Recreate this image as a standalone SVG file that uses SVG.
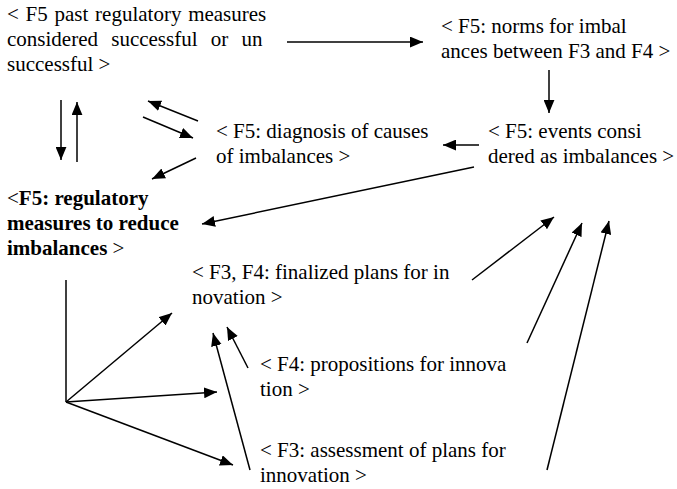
<svg xmlns="http://www.w3.org/2000/svg" width="677" height="489" viewBox="0 0 677 489">
  <style>
    text { font-family: 'Liberation Serif', 'DejaVu Serif', Tinos, 'Times New Roman', Times, serif; font-size: 21px; fill: #000; }
    .b { font-weight: bold; }
    .c { fill: none; stroke: #000; stroke-width: 1.5; }
    .a { marker-end: url(#head); }
  </style>
  <defs>
    <marker id="head" markerUnits="userSpaceOnUse" markerWidth="13" markerHeight="11" refX="12" refY="5" orient="auto" viewBox="0 0 12 10">
      <path d="M0,0 L12,5 L0,10 z" fill="#000"/>
    </marker>
  </defs>
  <rect width="677" height="489" fill="#fff"/>

  <g id="connectors">
    <line class="c a" x1="287" y1="42" x2="423" y2="42"/>
    <line class="c a" x1="549" y1="70" x2="549" y2="113"/>
    <line class="c a" x1="479" y1="145" x2="443" y2="145"/>
    <line class="c a" x1="198" y1="121" x2="148" y2="101"/>
    <line class="c a" x1="143" y1="117" x2="193" y2="138"/>
    <line class="c a" x1="196" y1="158" x2="152" y2="179"/>
    <line class="c a" x1="474" y1="167" x2="202" y2="224"/>
    <line class="c a" x1="61" y1="100" x2="61" y2="160"/>
    <line class="c a" x1="77" y1="162" x2="77" y2="102"/>
    <line class="c" x1="66" y1="280" x2="66" y2="402"/>
    <line class="c a" x1="66" y1="402" x2="172" y2="313"/>
    <line class="c a" x1="66" y1="402" x2="217" y2="392"/>
    <line class="c a" x1="66" y1="402" x2="233" y2="465"/>
    <line class="c a" x1="248" y1="368" x2="227" y2="327"/>
    <line class="c a" x1="250" y1="470" x2="213" y2="333"/>
    <line class="c a" x1="472" y1="280" x2="554" y2="217"/>
    <line class="c a" x1="527" y1="343" x2="582" y2="223"/>
    <line class="c a" x1="547" y1="470" x2="609" y2="221"/>
  </g>

  <g font-family="Liberation Serif, DejaVu Serif, serif">
    <g id="past-measures">
      <text x="7" y="21" word-spacing="1.5">&lt; F5 past regulatory measures</text>
      <text x="7" y="46" word-spacing="8">considered successful or un</text>
      <text x="7" y="71">successful &gt;</text>
    </g>

    <g id="norms">
      <text x="441" y="33">&lt; F5: norms for imbal</text>
      <text x="441" y="58">ances between F3 and F4 &gt;</text>
    </g>

    <g id="diagnosis">
      <text x="216" y="138">&lt; F5: diagnosis of causes</text>
      <text x="216" y="163">of imbalances &gt;</text>
    </g>

    <g id="events">
      <text x="488" y="138">&lt; F5: events consi</text>
      <text x="488" y="163">dered as imbalances &gt;</text>
    </g>

    <g id="regulatory-measures">
      <text x="7" y="205">&lt;<tspan class="b">F5: regulatory</tspan></text>
      <text x="7" y="230" class="b">measures to reduce</text>
      <text x="7" y="255"><tspan class="b">imbalances</tspan> &gt;</text>
    </g>

    <g id="finalized-plans">
      <text x="192" y="279">&lt; F3, F4: finalized plans for in</text>
      <text x="192" y="304">novation &gt;</text>
    </g>

    <g id="propositions">
      <text x="260" y="371">&lt; F4: propositions for innova</text>
      <text x="260" y="396">tion &gt;</text>
    </g>

    <g id="assessment">
      <text x="260" y="457">&lt; F3: assessment of plans for</text>
      <text x="260" y="482">innovation &gt;</text>
    </g>
  </g>
</svg>
